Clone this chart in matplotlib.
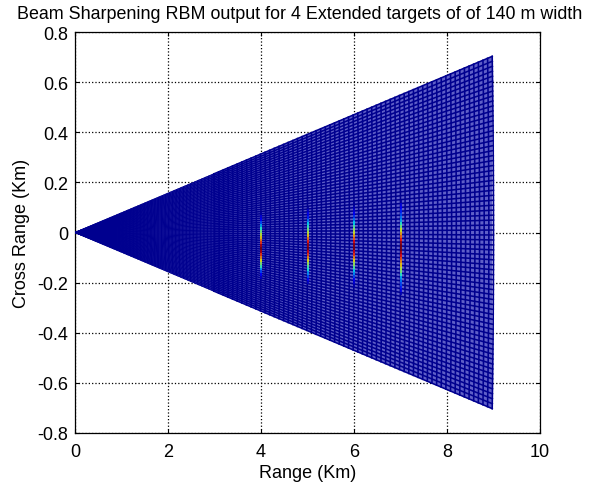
import numpy as np
import matplotlib
matplotlib.use('Agg')
import matplotlib.pyplot as plt
from matplotlib.collections import LineCollection

plt.rcParams['font.family'] = ['Liberation Sans', 'DejaVu Sans']

# Mesh of the sector: range cells and beam angle
near_ranges = np.arange(0, 3.01, 0.03)
far_ranges = np.arange(3, 9.01, 0.1)
half_angle = np.arctan(0.705 / 9)
n_beams = 72

# Target streaks: range (km), top and bottom of streak (km), intensity top to bottom
target_ranges = [4, 5, 6, 7]
target_tops = [0.08, 0.105, 0.12, 0.13]
target_bottoms = [-0.186, -0.205, -0.22, -0.25]
target_4 = [0.03, 0.08, 0.12, 0.2, 0.3, 0.4, 0.5, 0.6, 0.68, 0.76, 0.85, 0.95, 1.0,
            0.95, 0.85, 0.75, 0.65, 0.52, 0.42, 0.3, 0.2, 0.12, 0.06]
target_5 = [0.02, 0.06, 0.1, 0.16, 0.25, 0.35, 0.42, 0.5, 0.6, 0.68, 0.78, 0.88, 0.97, 1.0,
            0.92, 0.85, 0.75, 0.65, 0.55, 0.45, 0.38, 0.28, 0.2, 0.12, 0.06]
target_6 = [0.02, 0.05, 0.08, 0.12, 0.18, 0.25, 0.35, 0.45, 0.55, 0.62, 0.72, 0.8, 0.9, 0.98, 1.0,
            0.92, 0.85, 0.75, 0.65, 0.55, 0.45, 0.35, 0.28, 0.2, 0.12, 0.08, 0.04]
target_7 = [0.03, 0.08, 0.12, 0.16, 0.2, 0.25, 0.3, 0.4, 0.5, 0.62, 0.72, 0.8, 0.88, 0.96, 1.0,
            1.0, 0.95, 0.9, 0.82, 0.75, 0.68, 0.58, 0.5, 0.4, 0.3, 0.25, 0.2, 0.15, 0.1, 0.05]
target_values = [target_4, target_5, target_6, target_7]

xtick_values = [0, 2, 4, 6, 8, 10]
ytick_values = [-0.8, -0.6, -0.4, -0.2, 0, 0.2, 0.4, 0.6, 0.8]
ytick_labels = ['-0.8', '-0.6', '-0.4', '-0.2', '0', '0.2', '0.4', '0.6', '0.8']

fig = plt.figure(figsize=(5.96, 4.85), dpi=100)
ax = fig.add_axes([75 / 596, 1 - 434 / 485, 465 / 596, 401 / 485])

# Sector mesh: light blue cells with dark lines over them
angles = np.linspace(-half_angle, half_angle, n_beams)
mesh_color = '#00008f'
edge_r = far_ranges[-1]
ax.fill([0, edge_r * np.cos(half_angle), edge_r * np.cos(half_angle)],
        [0, edge_r * np.sin(half_angle), -edge_r * np.sin(half_angle)],
        color='#5f5fc8', lw=0, zorder=2)
for ranges, lw in [(near_ranges, 0.7), (far_ranges, 1.15)]:
    R, A = np.meshgrid(ranges, angles)
    X = R * np.cos(A)
    Y = R * np.sin(A)
    ax.plot(X, Y, color=mesh_color, lw=lw, zorder=3)
    ax.plot(X.T, Y.T, color=mesh_color, lw=lw, zorder=3)

# Target streaks
for r, top, bottom, vals in zip(target_ranges, target_tops, target_bottoms, target_values):
    edges = np.linspace(top, bottom, len(vals) + 1)
    segs = [[(r, edges[i]), (r, edges[i + 1])] for i in range(len(vals))]
    streak = LineCollection(segs, cmap='jet', linewidths=1.2, capstyle='butt', zorder=4)
    streak.set_array(np.array(vals))
    streak.set_clim(0, 1)
    ax.add_collection(streak)

ax.set_xlim(0, 10)
ax.set_ylim(-0.8, 0.8)
ax.set_xticks(xtick_values)
ax.set_yticks(ytick_values)
ax.set_yticklabels(ytick_labels)
ax.tick_params(direction='in', length=3, width=0.8, labelsize=13, top=True, right=True, pad=5)
ax.tick_params(axis='x', pad=7)
ax.grid(True, color='black', linestyle=':', linewidth=0.9, zorder=1)
ax.set_axisbelow(True)
for spine in ax.spines.values():
    spine.set_linewidth(0.9)

ax.set_xlabel('Range (Km)', fontsize=13, labelpad=3)
ax.set_ylabel('Cross Range (Km)', fontsize=13, labelpad=5)
ax.set_title('Beam Sharpening RBM output for 4 Extended targets of of 140 m width',
             fontsize=12.85, pad=10, x=0.483)

fig.savefig('out.png', dpi=100)
